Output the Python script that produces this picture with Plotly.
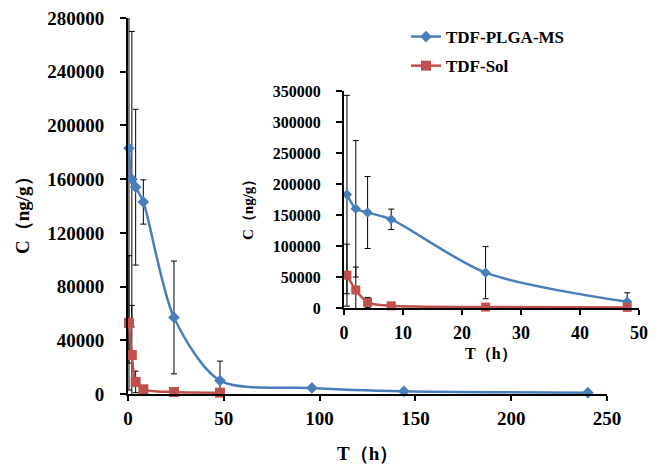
import plotly.graph_objects as go

# ---------------- data ----------------
t_ms = [0.5, 2, 4, 8, 24, 48, 96, 144, 240]
c_ms = [183000, 160000, 154000, 143000, 57000, 10000, 4500, 2000, 1000]
e_ms = [160000, 110000, 58000, 16500, 42000, 14500, 0, 0, 0]

t_sol = [0.5, 2, 4, 8, 24, 48]
c_sol = [53000, 29000, 9000, 3500, 1500, 1000]
e_sol = [50000, 37000, 8000, 2000, 500, 500]

names = ["TDF-PLGA-MS", "TDF-Sol"]
main_yticks = [0, 40000, 80000, 120000, 160000, 200000, 240000, 280000]
main_xticks = [0, 50, 100, 150, 200, 250]
inset_yticks = [0, 50000, 100000, 150000, 200000, 250000, 300000, 350000]
inset_xticks = [0, 10, 20, 30, 40, 50]

BLUE = "#4A7EBB"
RED = "#C0504D"
W, H = 660, 468
SERIF = "Liberation Serif"

fig = go.Figure()

def add_series(t, c, e, name, color, symbol, msize, xa, ya, show):
    # error bars (clipped to the plot area)
    fig.add_trace(go.Scatter(
        x=t, y=c, mode="markers", xaxis=xa, yaxis=ya,
        marker=dict(size=1, opacity=0),
        error_y=dict(type="data", array=e, visible=True, color="black",
                     thickness=1, width=3),
        showlegend=False, hoverinfo="skip", cliponaxis=True))
    # line + markers
    fig.add_trace(go.Scatter(
        x=t, y=c, mode="lines+markers", name=name, xaxis=xa, yaxis=ya,
        line=dict(color=color, width=2.5, shape="spline", smoothing=0.8),
        marker=dict(color=color, symbol=symbol, size=msize),
        showlegend=show, legendgroup=name, cliponaxis=False))

add_series(t_ms, c_ms, e_ms, names[0], BLUE, "diamond", 9, "x", "y", True)
add_series(t_sol, c_sol, e_sol, names[1], RED, "square", 10, "x", "y", True)

in_ms = [i for i, v in enumerate(t_ms) if v <= 48]
in_sol = [i for i, v in enumerate(t_sol) if v <= 48]
add_series([t_ms[i] for i in in_ms], [c_ms[i] for i in in_ms],
           [e_ms[i] for i in in_ms], names[0], BLUE, "diamond", 8, "x2", "y2", False)
add_series([t_sol[i] for i in in_sol], [c_sol[i] for i in in_sol],
           [e_sol[i] for i in in_sol], names[1], RED, "square", 9, "x2", "y2", False)

axis_common = dict(showline=True, linecolor="black", linewidth=2,
                   ticks="outside", tickcolor="black", tickwidth=2,
                   showgrid=False, zeroline=False, automargin=False,
                   tickformat="d")

fig.update_layout(
    width=W, height=H,
    margin=dict(l=0, r=0, t=0, b=0),
    paper_bgcolor="white", plot_bgcolor="rgba(0,0,0,0)",
    xaxis=dict(domain=[128 / W, 607 / W], range=[0, 250],
               tickvals=main_xticks, ticklen=5, ticklabelstandoff=1,
               tickfont=dict(family=SERIF, size=19, color="black", weight="bold"),
               anchor="y", **axis_common),
    yaxis=dict(domain=[1 - 394 / H, 1 - 18 / H], range=[0, 280000],
               tickvals=main_yticks, ticklen=6, ticklabelstandoff=12,
               tickfont=dict(family=SERIF, size=19, color="black", weight="bold"),
               anchor="x", **axis_common),
    xaxis2=dict(domain=[344 / W, 639 / W], range=[0, 50],
                tickvals=inset_xticks, ticklen=5, ticklabelstandoff=2,
                tickfont=dict(family=SERIF, size=18, color="black", weight="bold"),
                anchor="y2", **axis_common),
    yaxis2=dict(domain=[1 - 308 / H, 1 - 91 / H], range=[0, 350000],
                tickvals=inset_yticks, ticklen=6, ticklabelstandoff=12,
                tickfont=dict(family=SERIF, size=16, color="black", weight="bold"),
                anchor="x2", **axis_common),
    legend=dict(x=406 / W, y=1 - 19 / H, xanchor="left", yanchor="top",
                bgcolor="rgba(0,0,0,0)", tracegroupgap=4,
                font=dict(family=SERIF, size=17, color="black", weight="bold")),
    showlegend=True,
)

def title(text, px, py, size, angle=0):
    fig.add_annotation(text=text, x=px / W, y=1 - py / H, xref="paper", yref="paper",
                       xanchor="center", yanchor="middle",
                       showarrow=False, textangle=angle,
                       font=dict(family=SERIF, size=size, color="black", weight="bold"))

title("C（ng/g）", 23, 211, 19, -90)
title("T（h）", 367, 453, 19)
title("C（ng/g）", 248, 206, 15, -90)
title("T（h）", 491, 354, 16)

fig.write_html("out.html")
